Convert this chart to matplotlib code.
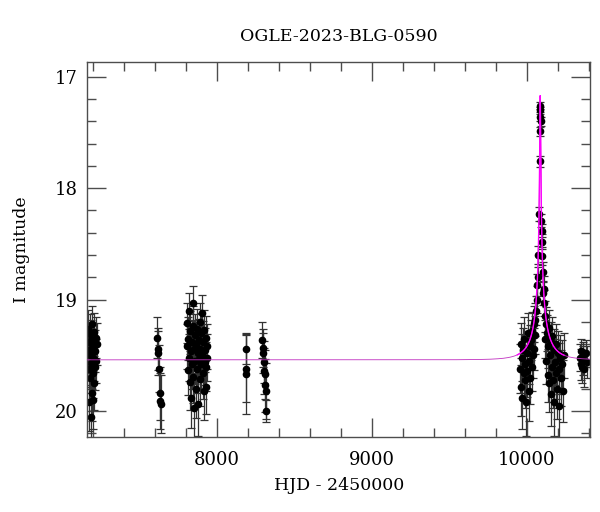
import numpy as np
import matplotlib
matplotlib.use('Agg')
import matplotlib.pyplot as plt
from matplotlib.ticker import MultipleLocator

plt.rcParams['font.family'] = ['DejaVu Serif']

# OGLE photometry, grouped by observing season (HJD - 2450000, I mag, error)
hjd_s1 = [7170, 7172, 7174, 7176, 7178, 7180, 7182, 7184, 7186, 7188, 7190, 7192, 7194,
          7196, 7198, 7200, 7202, 7204, 7206, 7208, 7211, 7214, 7217, 7220, 7224, 7228]
mag_s1 = [19.45, 19.26, 19.62, 19.38, 19.92, 19.50, 19.31, 19.70, 19.44, 20.05, 19.57, 19.36, 19.84,
          19.48, 19.22, 19.66, 19.41, 19.90, 19.53, 19.29, 19.75, 19.46, 19.60, 19.34, 19.55, 19.40]
err_s1 = [0.20, 0.17, 0.22, 0.18, 0.26, 0.20, 0.18, 0.23, 0.19, 0.28, 0.21, 0.18, 0.25,
          0.19, 0.16, 0.22, 0.19, 0.26, 0.20, 0.17, 0.24, 0.19, 0.21, 0.18, 0.20, 0.19]

hjd_s2 = [7615, 7619, 7623, 7627, 7631, 7635, 7639]
mag_s2 = [19.34, 19.48, 19.44, 19.62, 19.84, 19.91, 19.94]
err_s2 = [0.18, 0.20, 0.19, 0.21, 0.24, 0.25, 0.26]

hjd_s3 = [7808, 7811, 7814, 7817, 7820, 7823, 7826, 7829, 7832, 7835, 7838, 7841, 7844, 7847, 7850,
          7853, 7856, 7859, 7862, 7865, 7868, 7871, 7874, 7877, 7880, 7883, 7886, 7889, 7892, 7895,
          7898, 7901, 7904, 7907, 7910, 7913, 7916, 7919, 7922, 7925, 7928, 7931, 7934, 7937, 7940]
mag_s3 = [19.42, 19.21, 19.63, 19.35, 19.10, 19.52, 19.74, 19.28, 19.46, 19.88, 19.38, 19.58, 19.24, 19.69, 19.03,
          19.44, 19.97, 19.32, 19.55, 19.80, 19.40, 19.26, 19.62, 19.48, 19.94, 19.36, 19.53, 19.20, 19.71, 19.44,
          19.58, 19.30, 19.12, 19.50, 19.66, 19.38, 19.82, 19.27, 19.56, 19.45, 19.78, 19.34, 19.60, 19.42, 19.52]
err_s3 = [0.20, 0.18, 0.23, 0.19, 0.16, 0.21, 0.25, 0.18, 0.20, 0.27, 0.19, 0.22, 0.18, 0.24, 0.15,
          0.20, 0.29, 0.19, 0.21, 0.26, 0.20, 0.18, 0.22, 0.20, 0.28, 0.19, 0.21, 0.17, 0.24, 0.20,
          0.22, 0.18, 0.16, 0.21, 0.23, 0.19, 0.26, 0.18, 0.21, 0.20, 0.25, 0.19, 0.22, 0.20, 0.21]

hjd_s4 = [8186, 8189, 8192]
mag_s4 = [19.44, 19.62, 19.67]
err_s4 = [0.14, 0.30, 0.36]

hjd_s5 = [8294, 8298, 8301, 8304, 8307, 8310, 8313, 8316, 8320]
mag_s5 = [19.36, 19.43, 19.48, 19.56, 19.64, 19.67, 19.77, 19.82, 20.00]
err_s5 = [0.16, 0.17, 0.18, 0.19, 0.21, 0.22, 0.24, 0.25, 0.10]

hjd_s6 = [9955, 9960, 9964, 9968, 9972, 9976, 9980, 9984, 9988, 9992, 9996, 10000, 10004,
          10008, 10012, 10016, 10020, 10024, 10028, 10032, 10036, 10040, 10044, 10048, 10052, 10056,
          10060, 10063, 10067, 10070, 10074, 10079, 10083, 10085, 10086, 10087, 10088, 10089, 10095,
          10097, 10099, 10100, 10103, 10106, 10109, 10112,
          10115, 10118, 10122, 10126, 10130, 10134, 10138, 10142, 10146, 10150, 10154, 10158, 10162,
          10166, 10170, 10174, 10178, 10182, 10186, 10190, 10195, 10200, 10205, 10210, 10215, 10220,
          10226, 10232, 10238]
mag_s6 = [19.62, 19.40, 19.78, 19.52, 19.88, 19.45, 19.66, 19.35, 19.72, 19.58, 19.92, 19.48, 19.64,
          19.30, 19.82, 19.55, 19.42, 19.70, 19.36, 19.60, 19.28, 19.50, 19.22, 19.44, 19.18, 19.32,
          19.10, 19.00, 18.87, 18.80, 18.60, 18.23, 17.76, 17.49, 17.36, 17.26, 17.30, 17.40, 18.29,
          18.38, 18.48, 18.61, 18.75, 18.94, 18.90, 19.03,
          19.15, 19.35, 19.22, 19.55, 19.30, 19.68, 19.42, 19.25, 19.75, 19.50, 19.38, 19.85, 19.60,
          19.33, 19.72, 19.45, 19.92, 19.56, 19.40, 19.66, 19.80, 19.48, 19.62, 19.95, 19.52, 19.70,
          19.58, 19.82, 19.50]
err_s6 = [0.22, 0.19, 0.26, 0.21, 0.28, 0.20, 0.23, 0.19, 0.25, 0.22, 0.30, 0.20, 0.23,
          0.18, 0.27, 0.21, 0.19, 0.24, 0.18, 0.22, 0.17, 0.20, 0.16, 0.19, 0.15, 0.17,
          0.13, 0.12, 0.10, 0.09, 0.08, 0.06, 0.05, 0.04, 0.04, 0.03, 0.03, 0.04, 0.06,
          0.06, 0.07, 0.08, 0.09, 0.11, 0.11, 0.12,
          0.14, 0.17, 0.15, 0.21, 0.16, 0.24, 0.19, 0.16, 0.26, 0.20, 0.18, 0.28, 0.22,
          0.17, 0.25, 0.19, 0.30, 0.21, 0.18, 0.23, 0.27, 0.20, 0.23, 0.31, 0.20, 0.25,
          0.22, 0.28, 0.20]

hjd_s7 = [10344, 10348, 10352, 10356, 10360, 10366, 10372, 10380, 10388]
mag_s7 = [19.52, 19.58, 19.46, 19.60, 19.55, 19.50, 19.62, 19.48, 19.56]
err_s7 = [0.12, 0.14, 0.11, 0.15, 0.13, 0.12, 0.16, 0.12, 0.14]

# point-lens model fit parameters
t0 = 10087.0
tE = 135.0
u0 = 0.0187
fs = 0.15
I_base = 19.54

hjd = np.concatenate([hjd_s1, hjd_s2, hjd_s3, hjd_s4, hjd_s5, hjd_s6, hjd_s7])
mag = np.concatenate([mag_s1, mag_s2, mag_s3, mag_s4, mag_s5, mag_s6, mag_s7])
err = np.concatenate([err_s1, err_s2, err_s3, err_s4, err_s5, err_s6, err_s7])

# Paczynski curve with blending
def pacz(t):
    u = np.sqrt(u0**2 + ((t - t0) / tE)**2)
    A = (u**2 + 2) / (u * np.sqrt(u**2 + 4))
    return I_base - 2.5 * np.log10(fs * A + 1 - fs)

tm = np.linspace(7100, 10450, 20000)
te = np.linspace(9940, 10240, 20000)

fig = plt.figure(figsize=(6, 5.12), dpi=100)
ax = fig.add_axes([0.1455, 0.147, 0.8378, 0.7325])

ax.errorbar(hjd, mag, yerr=err, fmt='o', color='black', ms=4.5,
            ecolor='0.2', elinewidth=0.9, capsize=3, capthick=0.9, zorder=2)
ax.plot(tm, pacz(tm), color='#c030c0', lw=0.6, zorder=3)
ax.plot(te, pacz(te), color='#ff00ff', lw=1.0, zorder=3)

ax.set_xlim(7165, 10408)
ax.set_ylim(20.23, 16.865)

ax.xaxis.set_major_locator(MultipleLocator(1000))
ax.xaxis.set_minor_locator(MultipleLocator(200))
ax.yaxis.set_major_locator(MultipleLocator(1))
ax.yaxis.set_minor_locator(MultipleLocator(0.2))
ax.tick_params(which='both', direction='in', top=True, right=True, color='0.3', width=1)
ax.tick_params(which='major', length=13.5, labelsize=13)
ax.tick_params(axis='x', which='major', pad=10)
ax.tick_params(axis='y', which='major', pad=7)
ax.tick_params(which='minor', length=6.8)
for s in ax.spines.values():
    s.set_color('0.3')
    s.set_linewidth(1)

ax.set_title('OGLE-2023-BLG-0590', fontsize=12.5, pad=15)
ax.set_xlabel('HJD - 2450000', fontsize=12.5, labelpad=6)
ax.set_ylabel('I magnitude', fontsize=12.5, labelpad=18)

fig.savefig('out.png', dpi=100)
